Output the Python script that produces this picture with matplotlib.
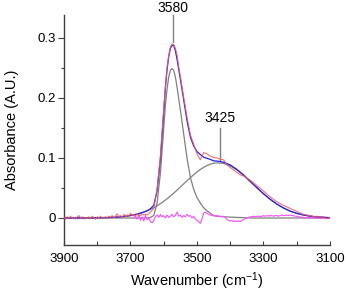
import numpy as np
import matplotlib
matplotlib.use('Agg')
import matplotlib.pyplot as plt
from matplotlib.ticker import MultipleLocator, FixedLocator

plt.rcParams['font.family'] = ['Liberation Sans', 'DejaVu Sans']
plt.rcParams['mathtext.fontset'] = 'custom'
plt.rcParams['mathtext.rm'] = 'Liberation Sans'
plt.rcParams['mathtext.it'] = 'Liberation Sans:italic'

# fit grid (cm-1) and the two fitted components + their sum
fit_wn = [3900, 3880, 3860, 3840, 3820, 3800, 3780, 3760, 3740, 3720, 3700, 3680,
          3670, 3660, 3650, 3640, 3630, 3620, 3610, 3600, 3595, 3590, 3585, 3580,
          3575, 3570, 3565, 3560, 3555, 3550, 3540, 3530, 3520, 3510, 3500, 3490,
          3480, 3470, 3460, 3450,
          3440, 3420, 3400, 3380, 3360, 3340, 3320, 3300, 3280, 3260, 3240, 3220,
          3200, 3180, 3160, 3140, 3120, 3100]

comp_narrow = [0, 0, 0, 0, 0, 0, 0, 0, 0, 0, 0, 0,
               0, 0, 0, 0.001, 0.004, 0.025, 0.075, 0.150, 0.188, 0.215, 0.235, 0.246,
               0.249, 0.246, 0.235, 0.218, 0.199, 0.180, 0.140, 0.100, 0.068, 0.048, 0.034, 0.025,
               0.017, 0.012, 0.008, 0.004,
               0.003, 0.002, 0.0015, 0.001, 0.0005, 0, 0, 0, 0, 0, 0, 0,
               0, 0, 0, 0, 0, 0]

comp_broad = [0, 0, 0, 0.0001, 0.0001, 0.0003, 0.0005, 0.0009, 0.0015, 0.0025, 0.0041, 0.0065,
              0.0081, 0.0099, 0.0120, 0.0144, 0.0172, 0.0204, 0.0239, 0.0278, 0.0299, 0.0320, 0.0343, 0.0366,
              0.0389, 0.0414, 0.0439, 0.0464, 0.0490, 0.0516, 0.0569, 0.0621, 0.0672, 0.0721, 0.0767, 0.0808,
              0.0844, 0.0874, 0.0897, 0.0912,
              0.0919, 0.0910, 0.0869, 0.0800, 0.0712, 0.0611, 0.0506, 0.0404, 0.0312, 0.0232, 0.0167, 0.0115,
              0.0077, 0.0050, 0.0031, 0.0019, 0.0011, 0.0006]

fit_total = [0, 0, 0, 0.0001, 0.0001, 0.0003, 0.0005, 0.0009, 0.0015, 0.0025, 0.0041, 0.0065,
             0.0081, 0.0099, 0.0120, 0.0154, 0.0212, 0.0454, 0.0989, 0.1778, 0.2179, 0.2470, 0.2693, 0.2826,
             0.2879, 0.2874, 0.2789, 0.2644, 0.2480, 0.2316, 0.1969, 0.1621, 0.1352, 0.1201, 0.1107, 0.1058,
             0.1014, 0.0994, 0.0977, 0.0952,
             0.0949, 0.0930, 0.0884, 0.0810, 0.0717, 0.0611, 0.0506, 0.0404, 0.0312, 0.0232, 0.0167, 0.0115,
             0.0077, 0.0050, 0.0031, 0.0019, 0.0011, 0.0006]

# measured spectrum
data_wn = list(range(3900, 3649, -5)) + [
    3640, 3630, 3620, 3610, 3600, 3595, 3590, 3585, 3580, 3575, 3570, 3565, 3560, 3555,
    3550, 3540, 3530, 3520, 3510, 3500, 3490, 3480, 3470, 3460, 3450, 3440, 3430, 3420,
    3410, 3400, 3390, 3380, 3370, 3360, 3340, 3320, 3300, 3280, 3260, 3240, 3220, 3200,
    3180, 3160, 3150, 3140, 3130, 3120, 3110, 3100]
data_abs = [
    0.001, -0.002, 0.002, 0.000, 0.003, -0.001, 0.001, -0.002, 0.002, 0.004,
    0.000, 0.002, -0.002, 0.001, -0.001, 0.002, -0.001, 0.003, 0.000, -0.002,
    0.002, 0.000, 0.003, -0.001, 0.001, 0.002, -0.001, 0.003, 0.001, 0.004,
    0.000, 0.003, 0.007, 0.002, 0.004, 0.001, 0.006, 0.002, 0.005, 0.003,
    0.008, 0.004, 0.006, 0.003, 0.007, 0.005, 0.004, 0.007, 0.005, 0.006, 0.005,
    0.010, 0.016, 0.048, 0.104, 0.182, 0.218, 0.251, 0.270, 0.285, 0.290, 0.289, 0.283,
    0.272, 0.252, 0.236, 0.201, 0.168, 0.139, 0.123, 0.107, 0.097, 0.109, 0.107, 0.103,
    0.101, 0.100, 0.098, 0.097, 0.089, 0.084, 0.080, 0.076, 0.072, 0.070, 0.063, 0.054,
    0.045, 0.035, 0.027, 0.021, 0.016, 0.011, 0.006, 0.004, 0.002, 0.003, 0.001, 0.002,
    -0.001, 0.001]

# residual (data - fit)
resid_wn = list(range(3690, 3099, -5))
resid = [
    0.000, 0.003, -0.002, 0.006, -0.004, 0.002, -0.005, 0.004, -0.003, 0.001,
    -0.006, -0.008, -0.004, 0.002, 0.005, 0.001, 0.006, 0.002, 0.004, 0.000,
    0.005, 0.001, 0.003, 0.006, 0.002, 0.004, 0.010, 0.003, 0.005, 0.001,
    0.004, 0.002, 0.006, 0.003, 0.004, 0.000, 0.003, -0.002, -0.004, -0.006,
    -0.009, -0.002, 0.008, 0.010, 0.008, 0.006, 0.005, 0.004, 0.004, 0.003,
    0.004, 0.003, 0.003, 0.002, 0.003, 0.001, -0.002, -0.004, -0.005, -0.004,
    -0.006, -0.005, -0.006, -0.005, -0.006, -0.004, -0.003, -0.001, 0.000, 0.001,
    0.002, 0.002, 0.003, 0.002, 0.003, 0.003, 0.002, 0.003, 0.004, 0.003,
    0.004, 0.003, 0.004, 0.004, 0.003, 0.004, 0.004, 0.003, 0.004, 0.005,
    0.004, 0.004, 0.005, 0.004, 0.005, 0.004, 0.004, 0.003, 0.003, 0.002,
    0.002, 0.001, 0.001, 0.000, 0.001, 0.000, 0.000, 0.001, 0.000, 0.000,
    0.001, 0.000, -0.001, 0.000, 0.001, -0.001, 0.000, -0.001, 0.000]

peak_wn = [3573, 3431]
peak_top = [0.293, 0.097]
peak_text = ['3580', '3425']

fig = plt.figure(figsize=(3.47, 2.97), dpi=100)
ax = fig.add_axes([0.1844, 0.1751, 0.951 - 0.1844, 0.9495 - 0.1751])

ax.plot(fit_wn, comp_narrow, color='#808080', lw=0.9, zorder=1)
ax.plot(fit_wn, comp_broad, color='#808080', lw=0.9, zorder=1)
ax.plot(resid_wn, resid, color='#ff4cff', lw=0.8, zorder=2)
ax.plot(fit_wn, fit_total, color='#1f1fff', lw=0.9, zorder=3)
ax.plot(data_wn, data_abs, color='#ff5555', lw=0.8, alpha=0.85, zorder=4)

# peak labels with leader lines
leader = [(0.045, 0.057), (0.053, 0.070)]
for wn, top, txt, (gap, tpos) in zip(peak_wn, peak_top, peak_text, leader):
    ax.plot([wn, wn], [top, top + gap], color='#808080', lw=1, clip_on=False)
    ax.text(wn, top + tpos, txt, ha='center', va='center', fontsize=10, clip_on=False)

ax.set_xlim(3900, 3100)
ax.set_ylim(-0.045, 0.3383)

ax.xaxis.set_major_locator(FixedLocator([3900, 3700, 3500, 3300, 3100]))
ax.xaxis.set_minor_locator(FixedLocator([3800, 3600, 3400, 3200]))
ax.yaxis.set_major_locator(FixedLocator([0, 0.1, 0.2, 0.3]))
ax.yaxis.set_minor_locator(MultipleLocator(0.05))
ax.set_yticklabels(['0', '0.1', '0.2', '0.3'])

ax.tick_params(axis='x', which='both', direction='in', length=3, width=0.8,
               color='#404040', labelsize=9.5, pad=6)
ax.tick_params(axis='y', which='major', direction='out', length=4, width=0.8,
               color='#404040', labelsize=9.5, pad=2)
ax.tick_params(axis='y', which='minor', direction='out', length=2, width=0.8,
               color='#404040')

for s in ['top', 'right']:
    ax.spines[s].set_visible(False)
for s in ['left', 'bottom']:
    ax.spines[s].set_color('#404040')
    ax.spines[s].set_linewidth(1.0)

ax.set_xlabel('Wavenumber (cm$^{-1}$)', fontsize=10.5, labelpad=4)
ax.set_ylabel('Absorbance (A.U.)', fontsize=10.5, labelpad=13)

fig.savefig('out.png', dpi=100)
